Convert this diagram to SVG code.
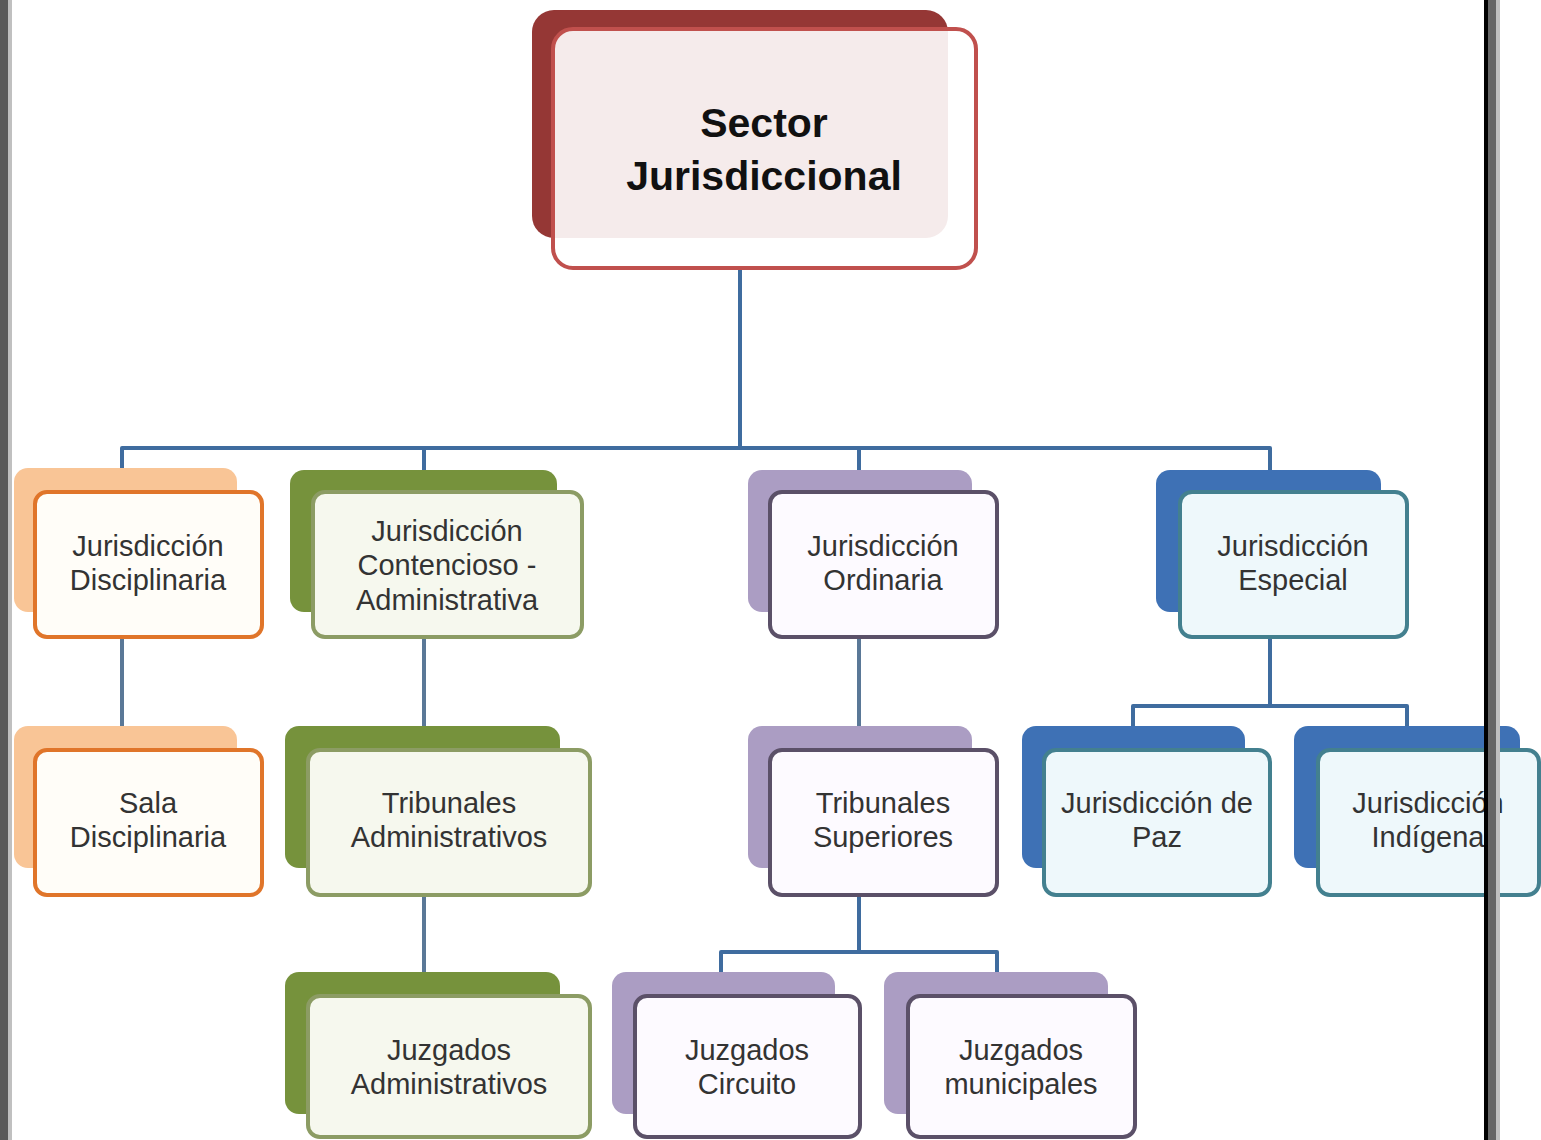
<svg xmlns="http://www.w3.org/2000/svg" width="1541" height="1140" viewBox="0 0 1541 1140">
  <defs>
    <style>
      .t { font-family: "Liberation Sans", Arial, sans-serif; font-size: 29px; fill: #333333; text-anchor: middle; }
      .tt { font-family: "Liberation Sans", Arial, sans-serif; font-size: 41px; font-weight: bold; fill: #111111; text-anchor: middle; }
      .con { fill: none; stroke: #3f6c9f; stroke-width: 4; stroke-linejoin: round; }
      .con2 { fill: none; stroke: #5a7897; stroke-width: 4; stroke-linejoin: round; }
      .or-b { fill: #f9c596; }
      .or-f { fill: #fffdf8; stroke: #e0752a; stroke-width: 4; }
      .gr-b { fill: #76923c; }
      .gr-f { fill: #f6f8ee; stroke: #8c9c64; stroke-width: 4; }
      .pu-b { fill: #ab9dc3; }
      .pu-f { fill: #fdfaff; stroke: #5b5068; stroke-width: 4; }
      .bl-b { fill: #3e71b5; }
      .bl-f { fill: #eef8fb; stroke: #43808f; stroke-width: 4; }
    </style>
  </defs>
  <rect x="0" y="0" width="1541" height="1140" fill="#ffffff"/>

  <g id="connectors">
    <path class="con" d="M740 268 V448"/>
    <path class="con" d="M122 470 V448 H1270 V470"/>
    <path class="con" d="M424 448 V470"/>
    <path class="con" d="M859 448 V470"/>
    <path class="con2" d="M122 637 V726"/>
    <path class="con2" d="M424 637 V726"/>
    <path class="con2" d="M859 637 V726"/>
    <path class="con" d="M1270 637 V706"/>
    <path class="con" d="M1133 726 V706 H1407 V726"/>
    <path class="con2" d="M424 895 V972"/>
    <path class="con" d="M859 895 V952"/>
    <path class="con" d="M721 972 V952 H997 V972"/>
  </g>

  <g id="sector-jurisdiccional">
    <rect x="532" y="10" width="416" height="228" rx="22" fill="#953735"/>
    <rect x="553" y="29" width="423" height="239" rx="20" fill="#ffffff" fill-opacity="0.9" stroke="#c0504d" stroke-width="4"/>
    <text class="tt" x="764" y="137">Sector</text>
    <text class="tt" x="764" y="190">Jurisdiccional</text>
  </g>

  <g id="jurisdiccion-disciplinaria">
    <rect class="or-b" x="14" y="468" width="223" height="144" rx="14"/>
    <rect class="or-f" x="35" y="492" width="227" height="145" rx="12"/>
    <text class="t" x="148" y="556">Jurisdicción</text>
    <text class="t" x="148" y="590">Disciplinaria</text>
  </g>

  <g id="jurisdiccion-contencioso">
    <rect class="gr-b" x="290" y="470" width="267" height="142" rx="14"/>
    <rect class="gr-f" x="313" y="492" width="269" height="145" rx="12"/>
    <text class="t" x="447" y="541">Jurisdicción</text>
    <text class="t" x="447" y="575">Contencioso -</text>
    <text class="t" x="447" y="610">Administrativa</text>
  </g>

  <g id="jurisdiccion-ordinaria">
    <rect class="pu-b" x="748" y="470" width="224" height="142" rx="14"/>
    <rect class="pu-f" x="770" y="492" width="227" height="145" rx="12"/>
    <text class="t" x="883" y="556">Jurisdicción</text>
    <text class="t" x="883" y="590">Ordinaria</text>
  </g>

  <g id="jurisdiccion-especial">
    <rect class="bl-b" x="1156" y="470" width="225" height="142" rx="14"/>
    <rect class="bl-f" x="1180" y="492" width="227" height="145" rx="12"/>
    <text class="t" x="1293" y="556">Jurisdicción</text>
    <text class="t" x="1293" y="590">Especial</text>
  </g>

  <g id="sala-disciplinaria">
    <rect class="or-b" x="14" y="726" width="223" height="142" rx="14"/>
    <rect class="or-f" x="35" y="750" width="227" height="145" rx="12"/>
    <text class="t" x="148" y="813">Sala</text>
    <text class="t" x="148" y="847">Disciplinaria</text>
  </g>

  <g id="tribunales-administrativos">
    <rect class="gr-b" x="285" y="726" width="275" height="142" rx="14"/>
    <rect class="gr-f" x="308" y="750" width="282" height="145" rx="12"/>
    <text class="t" x="449" y="813">Tribunales</text>
    <text class="t" x="449" y="847">Administrativos</text>
  </g>

  <g id="tribunales-superiores">
    <rect class="pu-b" x="748" y="726" width="224" height="142" rx="14"/>
    <rect class="pu-f" x="770" y="750" width="227" height="145" rx="12"/>
    <text class="t" x="883" y="813">Tribunales</text>
    <text class="t" x="883" y="847">Superiores</text>
  </g>

  <g id="jurisdiccion-de-paz">
    <rect class="bl-b" x="1022" y="726" width="223" height="142" rx="14"/>
    <rect class="bl-f" x="1044" y="750" width="226" height="145" rx="12"/>
    <text class="t" x="1157" y="813">Jurisdicción de</text>
    <text class="t" x="1157" y="847">Paz</text>
  </g>

  <g id="jurisdiccion-indigena">
    <rect class="bl-b" x="1294" y="726" width="226" height="142" rx="14"/>
    <rect class="bl-f" x="1318" y="750" width="221" height="145" rx="12"/>
    <text class="t" x="1428" y="813">Jurisdicción</text>
    <text class="t" x="1428" y="847">Indígena</text>
  </g>

  <g id="juzgados-administrativos">
    <rect class="gr-b" x="285" y="972" width="275" height="142" rx="14"/>
    <rect class="gr-f" x="308" y="996" width="282" height="141" rx="12"/>
    <text class="t" x="449" y="1060">Juzgados</text>
    <text class="t" x="449" y="1094">Administrativos</text>
  </g>

  <g id="juzgados-circuito">
    <rect class="pu-b" x="612" y="972" width="223" height="142" rx="14"/>
    <rect class="pu-f" x="635" y="996" width="225" height="141" rx="12"/>
    <text class="t" x="747" y="1060">Juzgados</text>
    <text class="t" x="747" y="1094">Circuito</text>
  </g>

  <g id="juzgados-municipales">
    <rect class="pu-b" x="884" y="972" width="224" height="142" rx="14"/>
    <rect class="pu-f" x="908" y="996" width="227" height="141" rx="12"/>
    <text class="t" x="1021" y="1060">Juzgados</text>
    <text class="t" x="1021" y="1094">municipales</text>
  </g>

  <g id="frame">
    <rect x="0" y="0" width="8" height="1140" fill="#5a5a5a"/>
    <rect x="8" y="0" width="4" height="1140" fill="#c0c0c0"/>
    <rect x="1484" y="0" width="4" height="1140" fill="#000000"/>
    <rect x="1488" y="0" width="8" height="1140" fill="#666666"/>
    <rect x="1496" y="0" width="4" height="1140" fill="#c0c0c0"/>
  </g>
</svg>
